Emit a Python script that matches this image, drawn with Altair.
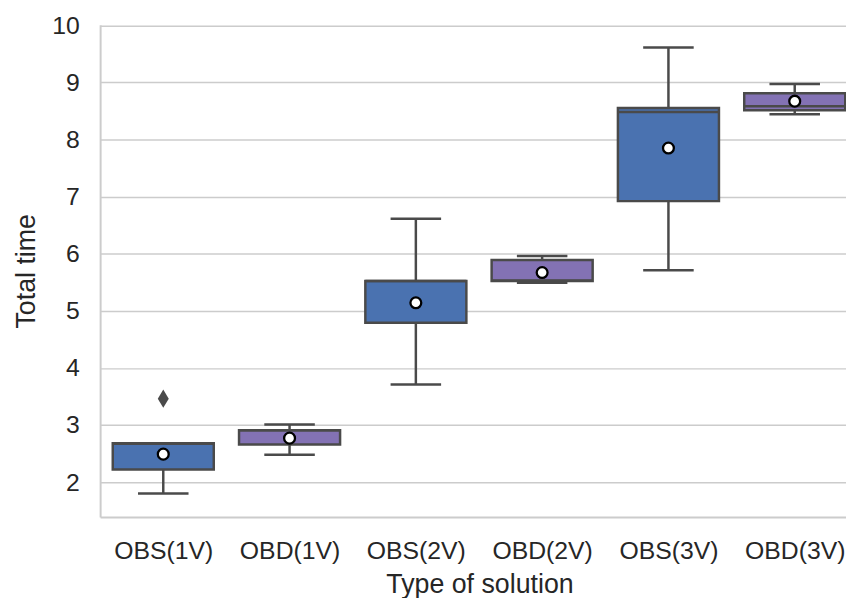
import altair as alt
import pandas as pd

categories = ["OBS(1V)", "OBD(1V)", "OBS(2V)", "OBD(2V)", "OBS(3V)", "OBD(3V)"]
kinds = ["OBS", "OBD", "OBS", "OBD", "OBS", "OBD"]
whisker_low = [1.80, 2.48, 3.71, 5.49, 5.71, 8.44]
q1 = [2.22, 2.66, 4.79, 5.52, 6.92, 8.51]
median = [2.67, 2.91, 5.52, 5.53, 8.48, 8.58]
q3 = [2.68, 2.91, 5.52, 5.89, 8.55, 8.81]
whisker_high = [2.68, 3.01, 6.61, 5.96, 9.61, 8.97]
means = [2.49, 2.77, 5.14, 5.67, 7.85, 8.67]
outlier_cat = ["OBS(1V)"]
outlier_val = [3.46]

half = 0.4
cap = 0.2
df = pd.DataFrame({
    "cat": categories,
    "kind": kinds,
    "idx": list(range(len(categories))),
    "lo": whisker_low, "q1": q1, "med": median, "q3": q3, "hi": whisker_high, "mean": means,
})
df["l"] = df["idx"] - half
df["r"] = df["idx"] + half
df["cl"] = df["idx"] - cap
df["cr"] = df["idx"] + cap
out = pd.DataFrame({"cat": outlier_cat, "val": outlier_val})
out["idx"] = [categories.index(c) for c in outlier_cat]

label_expr = "[" + ",".join("'%s'" % c for c in categories) + "][datum.value]"
xscale = alt.Scale(domain=[-0.5, 5.406], nice=False, zero=False)
yscale = alt.Scale(domain=[1.39, 10.01], nice=False, zero=False)
xaxis = alt.Axis(values=list(range(len(categories))), labelExpr=label_expr, title="Type of solution",
                 grid=False)
yaxis = alt.Axis(values=list(range(2, 11)), format="d", title="Total time", grid=True)

line_col = "#4a4a4a"
color = alt.Color("kind:N", scale=alt.Scale(domain=["OBS", "OBD"], range=["#4a72b0", "#8372b4"]), legend=None)

base = alt.Chart(df)
whisk_lo = base.mark_rule(color=line_col, strokeWidth=2.5).encode(
    x=alt.X("idx:Q", scale=xscale, axis=xaxis), y=alt.Y("lo:Q", scale=yscale, axis=yaxis), y2="q1:Q")
whisk_hi = base.mark_rule(color=line_col, strokeWidth=2.5).encode(
    x=alt.X("idx:Q", scale=xscale, axis=xaxis), y=alt.Y("q3:Q", scale=yscale, axis=yaxis), y2="hi:Q")
cap_lo = base.mark_rule(color=line_col, strokeWidth=2.5).encode(
    x=alt.X("cl:Q", scale=xscale, axis=xaxis), x2="cr:Q", y=alt.Y("lo:Q", scale=yscale, axis=yaxis))
cap_hi = base.mark_rule(color=line_col, strokeWidth=2.5).encode(
    x=alt.X("cl:Q", scale=xscale, axis=xaxis), x2="cr:Q", y=alt.Y("hi:Q", scale=yscale, axis=yaxis))
boxes = base.mark_rect(stroke=line_col, strokeWidth=2.5, clip=True).encode(
    x=alt.X("l:Q", scale=xscale, axis=xaxis), x2="r:Q", y=alt.Y("q1:Q", scale=yscale, axis=yaxis), y2="q3:Q",
    color=color)
med = base.mark_rule(color=line_col, strokeWidth=2.5, clip=True).encode(
    x=alt.X("l:Q", scale=xscale, axis=xaxis), x2="r:Q", y=alt.Y("med:Q", scale=yscale, axis=yaxis))
mean_pts = base.mark_point(shape="circle", filled=True, fill="white", stroke="black", strokeWidth=2.3,
                           size=120, opacity=1).encode(
    x=alt.X("idx:Q", scale=xscale, axis=xaxis), y=alt.Y("mean:Q", scale=yscale, axis=yaxis))
outl = alt.Chart(out).mark_point(shape="M0,-1L0.6,0L0,1L-0.6,0Z", filled=True, color=line_col,
                                 size=340, opacity=1).encode(
    x=alt.X("idx:Q", scale=xscale, axis=xaxis), y=alt.Y("val:Q", scale=yscale, axis=yaxis))

chart = alt.layer(whisk_lo, whisk_hi, cap_lo, cap_hi, boxes, med, mean_pts, outl).properties(
    width=753, height=497,
    autosize=alt.AutoSizeParams(type="none"),
    padding={"left": 93, "top": 14, "right": 0, "bottom": 79},
).configure_view(stroke=None).configure_axis(
    gridColor="#cccccc", gridWidth=1.5, ticks=False, domainColor="#cccccc", domainWidth=2,
    labelFontSize=25, labelColor="#262626", labelFont="Liberation Sans",
    titleFontSize=27, titleColor="#262626", titleFontWeight="normal", titleFont="Liberation Sans",
).configure_axisX(labelPadding=22, titlePadding=8, titleX=383).configure_axisY(labelPadding=21, titlePadding=11)

chart.save("out.html", embed_options={"renderer": "svg", "actions": False})
